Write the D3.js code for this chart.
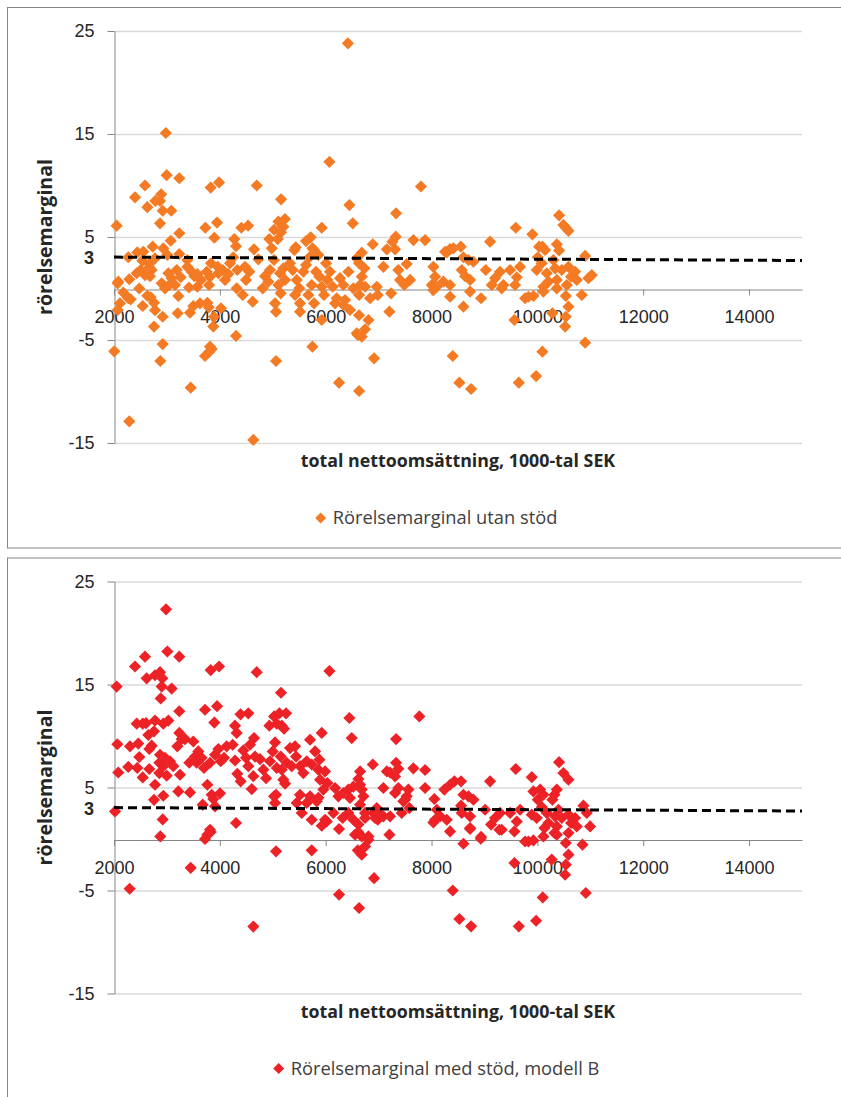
<!DOCTYPE html>
<html>
<head>
<meta charset="utf-8">
<script src="https://cdn.jsdelivr.net/npm/d3@7"></script>
<style>
  body { margin: 0; background: #fff; }
  svg { display: block; font-family: "Open Sans", "Liberation Sans", Arial, sans-serif; }
</style>
</head>
<body>
<svg id="chart" width="841" height="1097"></svg>
<script>
// Axis ticks
const xTicks = [2000, 4000, 6000, 8000, 10000, 12000, 14000];
const yTicks = [-15, -5, 5, 15, 25];
const xDomain = [2000, 15000];
const yDomain = [-15, 25];

// Dashed reference line (rörelsemarginal ≈ 3)
const refX = [2000, 15000];
const refY = [3.05, 2.72];
const refLabel = "3";

const xTitle = "total nettoomsättning, 1000-tal SEK";
const yTitle = "rörelsemarginal";

// Series 1: rörelsemarginal utan stöd  [omsättning, marginal]
const utanStod = [
  [6420,23.8],[2980,15.1],[6070,12.3],[2995,11.0],[3234,10.7],[2586,10.0],[3827,9.8],[3985,10.3],[4697,10.0],
  [2397,8.85],[2892,9.15],[2781,8.5],[2870,8.5],[2630,7.9],[2920,7.55],[3083,7.55],[5156,8.66],[6448,8.1],
  [6512,6.33],[2050,6.1],[2870,6.33],[3234,5.36],[3726,5.9],[3947,6.4],[3896,4.93],[4406,5.9],[4533,6.1],
  [4274,4.8],[4306,4.1],[4646,3.8],[4936,4.8],[5025,5.7],[5107,6.5],[5230,6.75],[5156,5.45],[5200,6.0],
  [5094,4.8],[5925,5.9],[5629,4.6],[5716,4.97],[5434,4.0],[5750,3.9],[6890,4.3],[7330,7.3],[7800,9.9],
  [9592,5.9],[10410,7.1],[10537,5.9],[10587,5.6],[9906,5.26],[9106,4.55],[7878,4.7],[8553,4.06],[8413,3.9],
  [8287,3.5],[10033,4.06],[10095,4.06],[10367,4.3],[10410,3.7],
  [2270,3.03],[2440,3.5],[2554,3.57],[2535,2.7],[2667,2.38],[2731,4.06],[2775,2.93],[2932,3.9],[3008,3.25],
  [3072,4.64],[3234,3.35],[3385,2.77],[2081,0.66],[2289,0.9],[2429,1.48],[2505,1.8],[2667,2.06],[2712,1.8],
  [2680,1.2],[2478,0.0],[2629,-0.7],[2693,-0.85],[2542,-1.7],[2315,-1.05],[2113,-1.44],[2005,-6.1],[2775,-2.1],
  [2920,-2.74],[2756,-3.7],[2920,-5.4],[2901,0.5],[2964,0.02],[3046,0.34],[3090,1.0],[3027,1.48],[3153,0.34],
  [3216,-0.73],[3260,1.09],[3185,1.8],[3204,-2.4],[3436,-2.35],[3386,2.1],[3468,1.63],[3518,1.2],[3575,1.4],
  [3418,0.1],[3575,0.17],[3644,0.83],[3752,1.63],[3814,1.15],[3796,0.34],[3833,2.45],[3960,2.1],[3972,1.48],
  [4054,1.8],[4160,1.4],[4098,0.83],[3764,-1.38],[3790,-1.83],[3890,-2.74],[3814,-5.65],[3877,-3.7],[4192,2.45],
  [4255,3.03],[4330,1.8],[4318,0.02],[4432,-0.63],[4495,0.83],[4476,2.1],[4557,1.63],[4306,-4.6],[4621,-1.28],
  [4727,2.83],[4854,1.2],[4810,0.02],[4916,0.66],[4948,1.8],[5024,2.77],[4981,3.9],[5043,-1.44],[5062,-2.25],
  [5137,1.48],[5200,1.96],[5106,0.34],[5232,0.83],[5150,-0.47],[5326,2.45],[5377,1.8],[5408,3.74],[5453,0.83],
  [5502,0.02],[5421,-0.63],[5578,1.63],[5629,2.28],[5692,3.03],[5673,-0.63],[5736,0.34],[5750,-5.65],[5818,1.63],
  [5780,3.74],[5862,3.25],[5881,1.15],[5925,0.17],[5969,-0.63],[5780,-1.44],[5515,-1.44],[6007,2.45],[6032,0.83],
  [6082,1.63],[6133,0.17],[6208,-0.95],[6271,1.0],[6334,0.34],[6366,-1.12],[6429,1.63],[6460,-2.09],[6523,0.02],
  [6587,-4.35],[6587,2.93],[3499,-1.7],[3625,-1.44],[2756,-1.38],[2270,-0.95],[2176,-0.4],[2586,1.3],
  [2289,-12.9],[2875,-7.04],[3449,-9.63],[3720,-6.55],[3802,-6.13],[3846,-5.87],[4633,-14.7],[5062,-7.04],
  [6252,-9.14],[6631,-9.95],[6606,-4.51],[6681,-4.68],[6744,-3.96],[6914,-6.78],[7204,-2.25],[6808,-3.06],
  [6630,-2.6],[6177,-1.44],[6334,-1.6],[5925,-3.06],[5515,-2.25],[4022,-1.92],[2070,-2.09],[2070,0.5],
  [7658,4.7],[7325,5.03],[7261,4.55],[7155,3.8],[7311,3.8],[6682,3.48],[6631,2.45],[6731,1.96],[6682,1.15],
  [6744,0.17],[6631,-0.63],[6838,-0.95],[6965,0.17],[6984,-0.63],[7090,2.1],[7235,-0.47],[7373,1.8],[7405,0.83],
  [7486,0.34],[7531,2.38],[7594,0.83],[8035,2.1],[8067,1.15],[8004,0.34],[8099,0.17],[8224,0.66],[8350,0.34],
  [8350,-0.8],[8256,3.57],[8350,3.83],[8602,3.03],[8697,2.77],[8791,2.6],[8571,1.8],[8634,1.2],[8728,0.83],
  [8728,-0.3],[8602,-1.76],[8936,-0.95],[9025,1.8],[9138,0.34],[9201,1.0],[9295,1.63],[9358,0.34],[9326,0.02],
  [9484,1.8],[9673,2.1],[9611,1.09],[9579,0.34],[9566,-3.06],[9768,-0.95],[9831,-0.8],[9925,-0.73],[10146,3.74],
  [10008,3.03],[9988,1.8],[10083,2.45],[10177,1.48],[10208,0.66],[10114,0.17],[10303,2.77],[10492,6.17],[10335,1.96],
  [10367,0.83],[10461,1.8],[10587,2.1],[10637,1.15],[10713,1.63],[10744,0.83],[10556,0.34],[10537,-0.73],[10587,-1.76],
  [10537,-2.74],[10524,-3.7],[10902,3.16],[10965,1.0],[11028,1.3],[10839,-0.63],[10902,-5.26],[10095,-6.13],
  [8401,-6.55],[8526,-9.14],[8747,-9.76],[9649,-9.14],[9976,-8.5],[10284,-2.4],[10367,0.02],[10114,-0.3],
  [8035,-0.15],[6650,0.34]
];

// Series 2: rörelsemarginal med stöd, modell B  [omsättning, marginal]
const medStod = [
  [2983,22.3],[3008,18.2],[3234,17.7],[2586,17.7],[2397,16.75],[3827,16.4],[3985,16.75],[4697,16.2],[6070,16.3],
  [2050,14.8],[2617,15.6],[2775,15.9],[2870,16.2],[2913,15.6],[2901,14.8],[3090,14.6],[2882,13.65],[5156,14.2],
  [2429,11.2],[2542,11.2],[2605,11.25],[2775,11.5],[2932,11.2],[3027,11.5],[3234,12.4],[3720,12.55],[3947,12.9],
  [3896,11.3],[4391,12.1],[4538,12.2],[4287,11.0],[4318,10.3],[4646,9.8],[4936,11.0],[5025,11.9],[5125,12.2],
  [5251,12.2],[5075,11.2],[5169,11.0],[5213,10.7],[5925,10.3],[6448,11.75],[6492,9.8],[7770,11.9],[7330,9.7],
  [2063,9.2],[2081,6.46],[2270,7.0],[2302,9.0],[2459,9.26],[2440,6.9],[2478,7.96],[2542,5.98],[2667,6.8],
  [2712,9.06],[2667,8.74],[2648,10.1],[2756,10.45],[2775,5.27],[2756,3.8],[2932,4.2],[2920,1.9],[2019,2.68],
  [2870,8.18],[2964,7.88],[3058,7.55],[2857,7.4],[2932,7.07],[2857,6.4],[2996,6.15],[3121,7.07],[3197,9.0],
  [3234,10.3],[3279,9.7],[3247,6.24],[3216,4.62],[3436,4.52],[3342,9.7],[3499,9.47],[3423,7.4],[3531,8.0],
  [3593,8.5],[3562,7.4],[3656,7.88],[3701,6.9],[3764,5.27],[3846,4.3],[3877,3.88],[4003,4.43],[3814,7.4],
  [3909,8.18],[3972,8.74],[4016,7.55],[4129,9.0],[4079,7.88],[4242,9.15],[4287,7.62],[4330,6.33],[4394,5.6],
  [4444,8.6],[4495,7.88],[4538,7.07],[4570,9.15],[4603,4.85],[4633,6.1],[4665,8.0],[4759,7.75],[4822,6.73],
  [4873,5.9],[4948,7.55],[4999,8.5],[5043,9.38],[5075,6.9],[5150,8.0],[5169,6.73],[5200,5.76],[5232,5.37],
  [5263,7.4],[5326,8.83],[5421,9.0],[5440,8.0],[5358,7.07],[5515,7.07],[5578,6.4],[5704,9.64],[5641,7.55],
  [5736,7.23],[5799,8.5],[5881,7.7],[5862,6.73],[5894,5.76],[5988,6.56],[6032,5.43],[5956,4.8],[6177,4.95],
  [6240,4.14],[6334,4.47],[6429,4.8],[6460,3.98],[6618,5.83],[6649,5.27],[6681,4.8],[6712,4.14],[6649,3.33],
  [6890,7.23],[7090,4.95],[7216,6.46],[7330,7.4],[7373,6.82],[7311,4.47],[7531,4.14],[7468,3.66],[7657,6.86],
  [7582,3.0],[6965,3.0],[7090,2.2],[7216,2.2],[6902,2.53],[6744,2.53],[6429,2.53],[6320,2.04],[6145,2.53],
  [5988,1.87],[5736,1.87],[5547,2.53],[5453,3.5],[5641,3.5],[5043,3.5],[5025,4.14],[5831,3.66],[3676,3.33],
  [3909,3.17],[4306,1.55],[3814,0.9],[6523,1.87],[6618,1.4],
  [2296,-4.83],[2875,0.25],[3449,-2.8],[3720,0.0],[3764,0.42],[3827,0.68],[4633,-8.5],[5062,-1.2],[5736,-1.1],
  [5925,1.29],[6020,1.7],[6252,0.97],[6252,-5.4],[6555,0.42],[6618,0.65],[6681,0.25],[6606,-1.1],[6681,-1.52],
  [6744,-0.72],[6808,-0.07],[6631,-6.7],[6914,-3.8],[7204,0.42],[6984,1.87],
  [6650,6.56],[7155,6.56],[7311,6.08],[7878,6.7],[7373,4.95],[7563,4.8],[7500,3.82],[7436,2.53],[6996,2.53],
  [6933,2.04],[6744,2.04],[6808,0.25],[7878,4.95],[8054,3.88],[8099,2.84],[8162,2.2],[8067,1.87],[8287,1.87],
  [8350,0.74],[8243,4.8],[8350,5.27],[8432,5.6],[8558,5.6],[8602,4.3],[8697,4.14],[8791,3.82],[8558,3.24],
  [8571,2.53],[8728,2.2],[8728,1.07],[8602,-0.46],[8936,0.2],[9106,5.6],[9012,2.84],[9125,1.4],[9201,2.04],
  [9295,2.53],[9326,0.9],[9484,2.53],[9592,6.8],[9566,0.74],[9611,1.7],[9673,2.84],[9768,-0.24],[9831,-0.24],
  [9925,-0.14],[9566,-2.33],[9894,6.0],[9925,4.62],[10008,3.82],[10052,4.8],[10114,4.3],[9894,2.36],[9988,2.04],
  [10083,3.1],[10177,2.53],[10133,1.07],[10208,1.55],[10284,3.82],[10322,4.3],[10367,4.8],[10410,7.46],[10492,6.4],
  [10587,5.76],[10335,2.2],[10398,2.84],[10367,1.22],[10461,2.04],[10587,2.36],[10637,1.55],[10713,2.04],[10744,1.22],
  [10587,0.58],[10537,-0.39],[10587,-1.52],[10537,-2.49],[10524,-3.47],[10870,3.24],[10933,2.53],[10996,1.22],
  [10852,-0.55],[10322,0.58],[10271,-2.0],[8401,-5.0],[8526,-7.77],[8747,-8.48],[9649,-8.48],[9976,-7.94],
  [10101,-5.67],[10915,-5.24],[8930,0.03],[8035,1.61],[8728,0.97],[9282,0.9],[10367,0.42],[10114,0.25],
  [5062,4.3],[5515,4.3],[5704,4.14],[5862,4.0],[6523,5.08]
];

const panels = [
  { data: utanStod, color: "#F47A24", legend: "Rörelsemarginal utan stöd", top: 0 },
  { data: medStod,  color: "#EC2227", legend: "Rörelsemarginal med stöd, modell B", top: 550.5 }
];

const svg = d3.select("#chart");
const plot = { left: 114, right: 802, top: 31, bottom: 443 };
const axisGrey = "#868686";
const gridGrey = "#D9D9D9";
const textCol = "#262626";
const tickFont = "'Liberation Sans', Arial, sans-serif";
const plainNum = d => String(d);   // hyphen-minus, no thousands separator

const x = d3.scaleLinear().domain(xDomain).range([plot.left, plot.right]);
const diamond = d3.symbol().type(d3.symbolSquare).size(74);

panels.forEach(p => {
  const g = svg.append("g").attr("transform", `translate(0,${p.top})`);
  const y = d3.scaleLinear().domain(yDomain).range([plot.bottom, plot.top]);

  // chart frame
  g.append("rect")
    .attr("x", 7.5).attr("y", 7.5)
    .attr("width", 860).attr("height", p.top === 0 ? 540.5 : 560)
    .attr("fill", "#fff").attr("stroke", axisGrey).attr("stroke-width", 1);

  // horizontal gridlines
  g.append("g").selectAll("line").data(yTicks).join("line")
    .attr("x1", plot.left).attr("x2", plot.right)
    .attr("y1", d => Math.round(y(d)) + 0.5).attr("y2", d => Math.round(y(d)) + 0.5)
    .attr("stroke", gridGrey).attr("stroke-width", 1.3);

  // y axis
  const yAxis = g.append("g").attr("transform", `translate(${plot.left + 0.5},0)`)
    .call(d3.axisLeft(y).tickValues(yTicks).tickSize(7).tickSizeOuter(0).tickPadding(13).tickFormat(plainNum));
  yAxis.select(".domain").attr("stroke", axisGrey);
  yAxis.selectAll(".tick line").attr("stroke", axisGrey);
  yAxis.selectAll("text").attr("fill", textCol).style("font-size", "18px").style("font-family", tickFont);

  // bold "3" label at the reference level
  g.append("text")
    .attr("x", plot.left - 20).attr("y", y(3) + 0.5).attr("dy", "0.35em")
    .attr("text-anchor", "end").attr("fill", textCol)
    .style("font-size", "18px").style("font-weight", "bold").style("font-family", tickFont)
    .text(refLabel);

  // x axis at y = 0
  const xAxis = g.append("g").attr("transform", `translate(0,${Math.round(y(0)) + 0.5})`)
    .call(d3.axisBottom(x).tickValues(xTicks).tickSize(6).tickSizeOuter(0).tickPadding(15).tickFormat(plainNum));
  xAxis.select(".domain").attr("stroke", axisGrey);
  xAxis.selectAll(".tick line").attr("stroke", axisGrey);
  xAxis.selectAll("text").attr("fill", textCol).style("font-size", "18px").style("font-family", tickFont);

  // points
  g.append("g").selectAll("path").data(p.data).join("path")
    .attr("d", diamond)
    .attr("transform", d => `translate(${x(d[0])},${y(d[1])}) rotate(45)`)
    .attr("fill", p.color);

  // dashed reference line
  const refPts = refX.map((v, i) => [v, refY[i]]);
  g.append("path")
    .datum(refPts)
    .attr("d", d3.line().x(d => x(d[0])).y(d => y(d[1])))
    .attr("fill", "none").attr("stroke", "#000")
    .attr("stroke-width", 3).attr("stroke-dasharray", "9,5");

  // axis titles
  g.append("text")
    .attr("transform", `translate(52,${(plot.top + plot.bottom) / 2}) rotate(-90)`)
    .attr("text-anchor", "middle").attr("fill", textCol)
    .style("font-size", "19.5px").style("font-weight", "bold")
    .text(yTitle);

  g.append("text")
    .attr("x", (plot.left + plot.right) / 2).attr("y", 467)
    .attr("text-anchor", "middle").attr("fill", textCol)
    .style("font-size", "17.8px").style("font-weight", "bold")
    .text(xTitle);

  // legend
  const lg = g.append("g");
  lg.append("path").attr("d", d3.symbol().type(d3.symbolSquare).size(60))
    .attr("fill", p.color).attr("transform", "rotate(45)");
  const lt = lg.append("text").attr("x", 12).attr("dy", "0.35em")
    .attr("fill", "#404040").style("font-size", "18.3px")
    .text(p.legend);
  const w = 12 + lt.node().getComputedTextLength();
  lg.attr("transform", `translate(${433 - w / 2 + 6},518)`);
});
</script>
</body>
</html>
